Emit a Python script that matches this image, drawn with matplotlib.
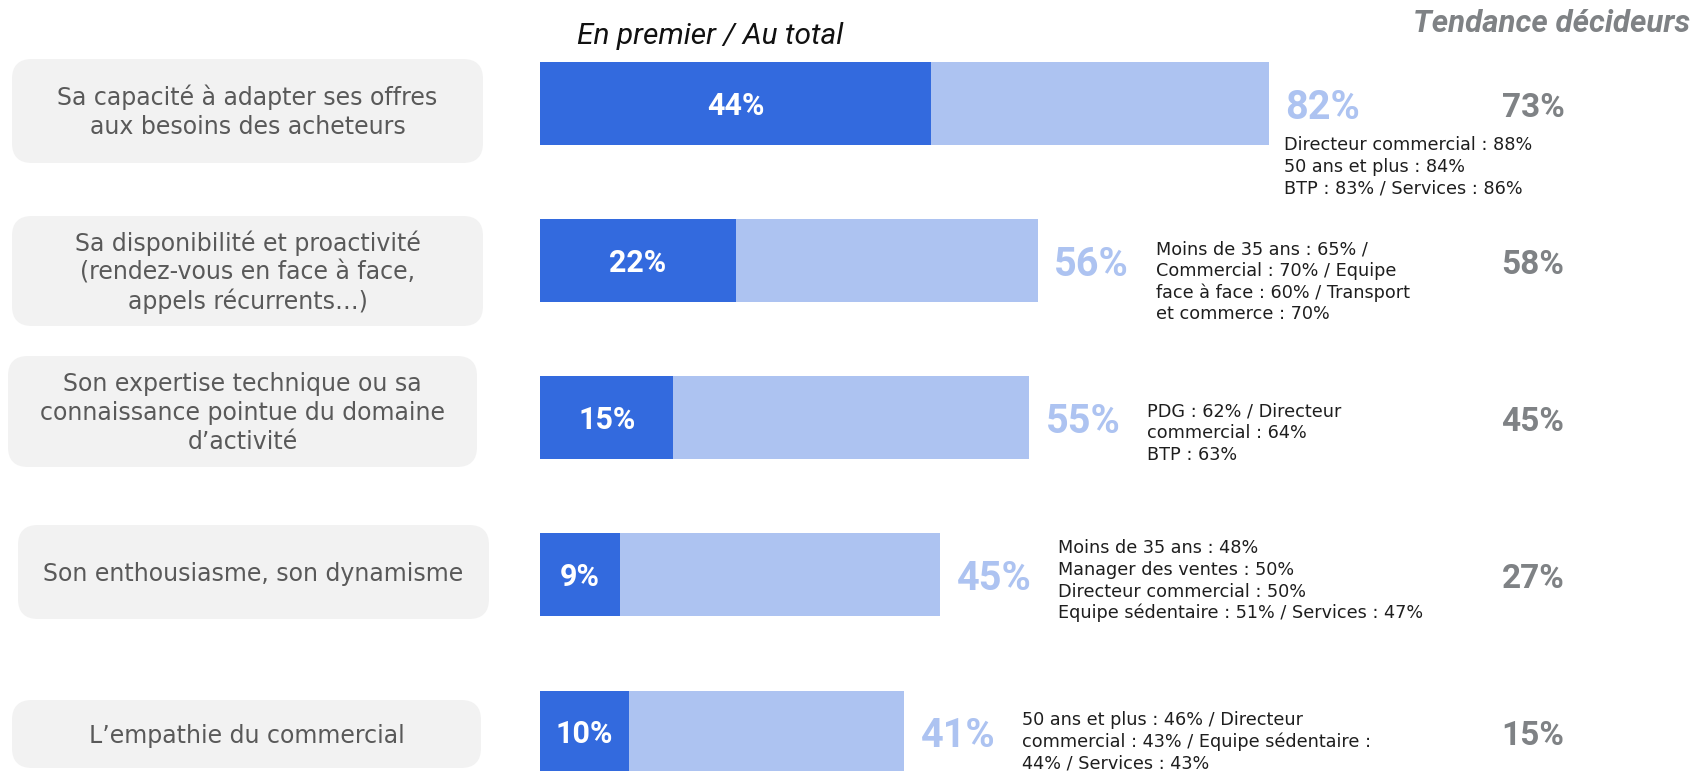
import matplotlib.pyplot as plt
from matplotlib.patches import FancyBboxPatch

# ---- data ----
categories = [
    "Sa capacité à adapter ses offres\naux besoins des acheteurs",
    "Sa disponibilité et proactivité\n(rendez-vous en face à face,\nappels récurrents…)",
    "Son expertise technique ou sa\nconnaissance pointue du domaine\nd’activité",
    "Son enthousiasme, son dynamisme",
    "L’empathie du commercial",
]
first_pct = [44, 22, 15, 9, 10]
total_pct = [82, 56, 55, 45, 41]
trend_pct = [73, 58, 45, 27, 15]
notes = [
    "Directeur commercial : 88%\n50 ans et plus : 84%\nBTP : 83% / Services : 86%",
    "Moins de 35 ans : 65% /\nCommercial : 70% / Equipe\nface à face : 60% / Transport\net commerce : 70%",
    "PDG : 62% / Directeur\ncommercial : 64%\nBTP : 63%",
    "Moins de 35 ans : 48%\nManager des ventes : 50%\nDirecteur commercial : 50%\nEquipe sédentaire : 51% / Services : 47%",
    "50 ans et plus : 46% / Directeur\ncommercial : 43% / Equipe sédentaire :\n44% / Services : 43%",
]

# ---- styling ----
DARK = "#336ade"
LIGHT = "#adc3f1"
BOX = "#f2f2f2"
LABEL_GREY = "#595959"
TREND_GREY = "#7f8285"
NOTE_COL = "#1e1e1e"
PCT_FONT = "Roboto"

W, H = 1693, 771
PX = 8.89          # pixels per percentage point
BAR_X0 = 540       # pixel x of the 0% line
ROW0, ROW_STEP = 103.7, 157.1
PT = 0.72          # points per pixel at dpi 100

fig = plt.figure(figsize=(W / 100, H / 100), dpi=100)
fig.patch.set_facecolor("white")

# pixel-space layer for the grey boxes and headers
deco = fig.add_axes([0, 0, 1, 1])
deco.set_xlim(0, W)
deco.set_ylim(H, 0)
deco.axis("off")

# bar layer, in percent / row units
ax = fig.add_axes([0, 0, 1, 1])
ax.patch.set_alpha(0)
ax.axis("off")
ax.set_xlim(-BAR_X0 / PX, (W - BAR_X0) / PX)
ax.set_ylim((H - ROW0) / ROW_STEP, -ROW0 / ROW_STEP)

rows = list(range(len(categories)))
bar_h = 83 / ROW_STEP
ax.barh(rows, total_pct, height=bar_h, color=LIGHT)
ax.barh(rows, first_pct, height=bar_h, color=DARK)

# label boxes (x, y, w, h in pixels) - hand placed like the slide
boxes = [(12, 59, 471, 104), (12, 216, 471, 110), (8, 356, 469, 111),
         (18, 525, 471, 94), (12, 700, 469, 68)]
for (bx, by, bw, bh), label in zip(boxes, categories):
    deco.add_patch(FancyBboxPatch((bx, by), bw, bh,
                                  boxstyle="round,pad=0,rounding_size=20",
                                  fc=BOX, ec="none"))
    lines = label.split("\n")
    cy = by + bh / 2
    for j, line in enumerate(lines):
        base = cy + (j - (len(lines) - 1) / 2) * 29 + 8.5
        deco.text(bx + bw / 2, base, line, ha="center", va="baseline",
                  fontsize=17, color=LABEL_GREY, family="DejaVu Sans")

# headers
deco.text(710, 44, "En premier / Au total", ha="center", va="baseline",
          fontsize=21.5, style="italic", color="#111111", family="Roboto")
deco.text(1690, 32, "Tendance décideurs", ha="right", va="baseline",
          fontsize=22.5, style="italic", fontweight="bold", color=TREND_GREY,
          family="Roboto")

trend_x = (1533 - BAR_X0) / PX
# where the note block starts: (dx from bar end, first baseline below bar centre) in px
note_pos = [(15.5, 46.3), (118, -6.7), (118, -1.5), (118, -22), (118, -7)]

for i in rows:
    # "en premier" value, centred in the dark segment
    ax.annotate(f"{first_pct[i]}%", xy=(first_pct[i] / 2, i),
                xytext=(0, -11 * PT), textcoords="offset points",
                ha="center", va="baseline", fontsize=22, fontweight="bold",
                color="white", family=PCT_FONT)
    # total value next to the light bar
    ax.annotate(f"{total_pct[i]}%", xy=(total_pct[i], i),
                xytext=(16.5 * PT, -15 * PT), textcoords="offset points",
                ha="left", va="baseline", fontsize=28.5, fontweight="bold",
                color=LIGHT, family=PCT_FONT)
    # decision-makers trend
    ax.annotate(f"{trend_pct[i]}%", xy=(trend_x, i),
                xytext=(0, -13 * PT), textcoords="offset points",
                ha="center", va="baseline", fontsize=24, fontweight="bold",
                color=TREND_GREY, family=PCT_FONT)
    # sub-group details
    dx, dy = note_pos[i]
    for j, line in enumerate(notes[i].split("\n")):
        ax.annotate(line, xy=(total_pct[i], i),
                    xytext=(dx * PT, -(dy + j * 21.8) * PT),
                    textcoords="offset points", ha="left", va="baseline",
                    fontsize=12.7, color=NOTE_COL, family="DejaVu Sans")

fig.savefig("out.png", dpi=100, facecolor="white")
